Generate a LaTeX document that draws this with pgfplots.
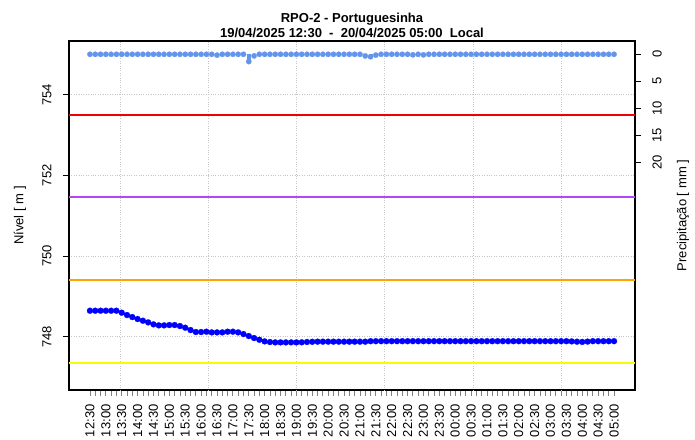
\documentclass[border=0pt]{standalone}
\usepackage{pgfplots}
\pgfplotsset{compat=1.18}
\usepackage{fontspec}
\setmainfont{Liberation Sans}

\definecolor{rblue}{RGB}{0,0,255}
\definecolor{cblue}{RGB}{100,149,237}
\definecolor{rred}{RGB}{240,0,0}
\definecolor{rpurple}{RGB}{180,70,245}
\definecolor{rorange}{RGB}{255,165,0}
\definecolor{ryellow}{RGB}{250,250,0}

\begin{document}
\begin{tikzpicture}
\path[use as bounding box] (0,0) rectangle (695pt,439pt);

% nivel (left axis)
\begin{axis}[
  at={(69pt,49pt)}, anchor=south west,
  scale only axis, width=566pt, height=349pt,
  xmin=-3.96, xmax=102.96, ymin=746.68, ymax=755.33,
  font=\fontsize{13}{15}\selectfont,
  /pgf/number format/assume math mode=true,
  axis line style={line width=1.4pt},
  xtick pos=bottom, ytick pos=left, tick align=outside,
  major tick length=6pt, minor tick length=6pt,
  xtick={0,3,...,99},
  xticklabels={12:30,13:00,13:30,14:00,14:30,15:00,15:30,16:00,16:30,17:00,17:30,18:00,18:30,19:00,19:30,20:00,20:30,21:00,21:30,22:00,22:30,23:00,23:30,00:00,00:30,01:00,01:30,02:00,02:30,03:00,03:30,04:00,04:30,05:00},
  minor xtick={0,1,...,99},
  x tick style={gray, line width=0.8pt},
  xticklabel style={rotate=90, anchor=east},
  xticklabel shift=5pt,
  ytick={748,750,752,754},
  yticklabel style={rotate=90, anchor=south},
  yticklabel shift=8pt,
  y tick style={black, line width=0.6pt},
  ymajorgrids,
  extra x ticks={5.66,22.33,39.0,55.67,72.33,89.0},
  extra x tick labels={},
  extra x tick style={grid=major, major tick length=0pt},
  major grid style={dotted, gray!45, line width=0.6pt},
  ylabel={Nível [ m ]},
  ylabel style={at={(axis description cs:-0.0866,0.5)}, anchor=center},
  title={RPO-2 - Portuguesinha\\19/04/2025 12:30\ \ -\ \ 20/04/2025 05:00\ \ Local},
  title style={at={(axis description cs:0.5,1)}, anchor=south, align=center,
    font=\bfseries\fontsize{13}{15}\selectfont, inner sep=0pt, yshift=-3pt},
]
\addplot[rred, line width=1.8pt] coordinates {(-3.96,753.50) (102.96,753.50)};
\addplot[rpurple, line width=1.8pt] coordinates {(-3.96,751.456) (102.96,751.456)};
\addplot[rorange, line width=1.8pt] coordinates {(-3.96,749.405) (102.96,749.405)};
\addplot[ryellow, line width=1.8pt] coordinates {(-3.96,747.34) (102.96,747.34)};
\addplot[rblue, line width=1.4pt, mark=*, mark size=3pt, mark options={line width=0.2pt}] coordinates {
(0,748.645) (1,748.645) (2,748.645) (3,748.645) (4,748.645) (5,748.645)
(6,748.596) (7,748.538) (8,748.488) (9,748.439) (10,748.397) (11,748.356)
(12,748.307) (13,748.282) (14,748.282) (15,748.290) (16,748.290) (17,748.265)
(18,748.224) (19,748.166) (20,748.117) (21,748.117) (22,748.125) (23,748.108)
(24,748.108) (25,748.108) (26,748.125) (27,748.125) (28,748.108) (29,748.067)
(30,748.017) (31,747.968) (32,747.925) (33,747.885) (34,747.868) (35,747.860)
(36,747.860) (37,747.860) (38,747.860) (39,747.860) (40,747.862) (41,747.870)
(42,747.875) (43,747.878) (44,747.878) (45,747.878) (46,747.878) (47,747.878)
(48,747.878) (49,747.878) (50,747.878) (51,747.878) (52,747.878) (53,747.890)
(54,747.890) (55,747.890) (56,747.890) (57,747.890) (58,747.890) (59,747.890)
(60,747.890) (61,747.890) (62,747.890) (63,747.890) (64,747.890) (65,747.890)
(66,747.890) (67,747.890) (68,747.890) (69,747.890) (70,747.890) (71,747.890)
(72,747.890) (73,747.890) (74,747.890) (75,747.890) (76,747.890) (77,747.890)
(78,747.890) (79,747.890) (80,747.890) (81,747.890) (82,747.890) (83,747.890)
(84,747.890) (85,747.890) (86,747.890) (87,747.890) (88,747.890) (89,747.890)
(90,747.890) (91,747.885) (92,747.878) (93,747.872) (94,747.880) (95,747.890)
(96,747.890) (97,747.890) (98,747.890) (99,747.890)
};
\end{axis}

% precipitacao (right axis, reversed)
\begin{axis}[
  at={(69pt,49pt)}, anchor=south west,
  scale only axis, width=566pt, height=349pt,
  xmin=-3.96, xmax=102.96, ymin=-2.47, ymax=62.34, y dir=reverse,
  font=\fontsize{13}{15}\selectfont,
  /pgf/number format/assume math mode=true,
  hide x axis, axis line style={draw=none},
  ytick pos=right, yticklabel pos=right, tick align=outside,
  major tick length=6pt,
  ytick={0,5,10,15,20},
  y tick style={black, line width=0.6pt},
  yticklabel style={rotate=90, anchor=north},
  yticklabel shift=8pt,
  ylabel={Precipitação [ mm ]},
  ylabel style={at={(axis description cs:1.0848,0.5)}, anchor=center, rotate=0},
]
\addplot[cblue, ycomb, line width=4pt, mark=*, mark size=2.7pt, mark options={line width=0.2pt}] coordinates {
(0,0) (1,0) (2,0) (3,0) (4,0) (5,0) (6,0) (7,0) (8,0) (9,0)
(10,0) (11,0) (12,0) (13,0) (14,0) (15,0) (16,0) (17,0) (18,0) (19,0)
(20,0) (21,0) (22,0) (23,0) (24,0.15) (25,0) (26,0) (27,0) (28,0) (29,0)
(30,1.35) (31,0.3) (32,0) (33,0) (34,0) (35,0) (36,0) (37,0) (38,0) (39,0)
(40,0) (41,0) (42,0) (43,0) (44,0) (45,0) (46,0) (47,0) (48,0) (49,0)
(50,0) (51,0) (52,0.3) (53,0.45) (54,0.15) (55,0) (56,0) (57,0) (58,0) (59,0)
(60,0) (61,0.1) (62,0) (63,0.1) (64,0) (65,0) (66,0) (67,0) (68,0) (69,0)
(70,0) (71,0) (72,0) (73,0) (74,0) (75,0) (76,0) (77,0) (78,0) (79,0)
(80,0) (81,0) (82,0) (83,0) (84,0) (85,0) (86,0) (87,0) (88,0) (89,0)
(90,0) (91,0) (92,0) (93,0) (94,0) (95,0) (96,0) (97,0) (98,0) (99,0)
};
\end{axis}
\end{tikzpicture}
\end{document}
